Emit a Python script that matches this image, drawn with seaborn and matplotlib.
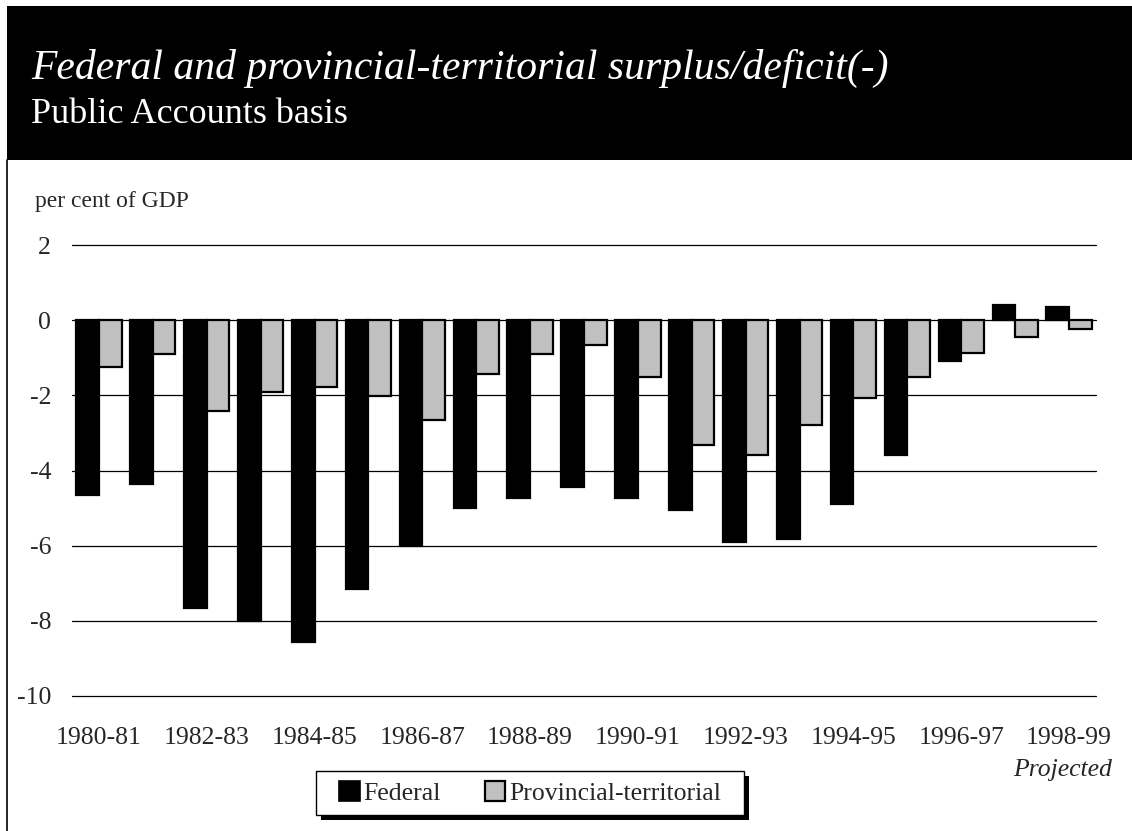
import matplotlib
matplotlib.use("Agg")
import matplotlib.pyplot as plt
from matplotlib.patches import Rectangle, Patch
from matplotlib.lines import Line2D
import pandas as pd
import seaborn as sns

# Fiscal years
years = ["1980-81", "1981-82", "1982-83", "1983-84", "1984-85", "1985-86",
         "1986-87", "1987-88", "1988-89", "1989-90", "1990-91", "1991-92",
         "1992-93", "1993-94", "1994-95", "1995-96", "1996-97", "1997-98",
         "1998-99"]

# Surplus/deficit(-), per cent of GDP
federal = [-4.65, -4.36, -7.67, -8.01, -8.57, -7.14, -6.02, -5.01, -4.73,
           -4.43, -4.74, -5.05, -5.89, -5.81, -4.90, -3.58, -1.09, 0.41, 0.34]
provincial = [-1.24, -0.90, -2.41, -1.92, -1.79, -2.03, -2.65, -1.44, -0.89,
              -0.67, -1.50, -3.33, -3.58, -2.79, -2.07, -1.50, -0.87, -0.46,
              -0.23]

series_names = ["Federal", "Provincial-territorial"]
y_ticks = [2, 0, -2, -4, -6, -8, -10]

df = pd.DataFrame({
    "year": years * 2,
    "value": federal + provincial,
    "series": [series_names[0]] * len(years) + [series_names[1]] * len(years),
})

sns.set_theme(style="white")
plt.rcParams["font.family"] = ["Liberation Serif", "DejaVu Serif"]

W, H = 1132, 831
fig = plt.figure(figsize=(W / 100, H / 100), dpi=100)
fig.patch.set_facecolor("white")

def px(x, y):
    """Pixel position (from top-left) to figure fraction."""
    return x / W, 1 - y / H

# Black title band and left frame line
fig.patches.append(Rectangle(px(7, 160), (W - 7) / W, 154 / H,
                             transform=fig.transFigure, facecolor="black",
                             edgecolor="none", zorder=0))
fig.lines.append(Line2D([7 / W, 7 / W], [0, 1 - 160 / H],
                        transform=fig.transFigure, color="black", lw=1.2))

fig.text(*px(31, 79), "Federal and provincial-territorial surplus/deficit(-)",
         color="white", fontsize=30, fontstyle="italic", va="baseline",
         ha="left")
fig.text(*px(31, 123), "Public Accounts basis", color="white", fontsize=26,
         va="baseline", ha="left")
fig.text(*px(35, 207), "per cent of GDP", fontsize=17, va="baseline",
         ha="left")

# Plot area
left, right, top, bottom = 72, 1096, 245, 696
ax = fig.add_axes([left / W, 1 - bottom / H, (right - left) / W,
                   (bottom - top) / H])
ax.set_facecolor("white")

for v in y_ticks:
    ax.axhline(v, color="black", lw=0.9, zorder=0, clip_on=False)

palette = {series_names[0]: "black", series_names[1]: "#C0C0C0"}
sns.barplot(data=df, x="year", y="value", hue="series", order=years,
            hue_order=series_names, palette=palette, width=0.84, gap=0,
            edgecolor="black", linewidth=1.6, legend=False, ax=ax,
            saturation=1, zorder=2)

ax.set_ylim(-10, 2)
ax.set_xlim(-0.5, len(years) - 0.5)
ax.set_yticks(y_ticks)
ax.set_yticklabels([str(v) for v in y_ticks], fontsize=18.5)
ax.set_xticks(range(0, len(years), 2))
ax.set_xticklabels(years[::2], fontsize=18.5)
ax.tick_params(axis="y", length=0, pad=15)
ax.tick_params(axis="x", length=0, pad=22)
ax.set_xlabel("")
ax.set_ylabel("")
for s in ax.spines.values():
    s.set_visible(False)

fig.text(*px(1112, 770), "Projected", fontsize=18.5, fontstyle="italic",
         ha="right", va="center")

# Legend with drop shadow
lx0, ly0, lx1, ly1 = 316, 771, 744, 815
fig.patches.append(Rectangle(px(lx0 + 5, ly1 + 5), (lx1 - lx0) / W,
                             (ly1 - ly0) / H, transform=fig.transFigure,
                             facecolor="black", edgecolor="none", zorder=3))
fig.patches.append(Rectangle(px(lx0, ly1), (lx1 - lx0) / W, (ly1 - ly0) / H,
                             transform=fig.transFigure, facecolor="white",
                             edgecolor="black", lw=1.0, zorder=4))
handles = [Patch(facecolor="black", edgecolor="black", lw=1.2),
           Patch(facecolor="#C0C0C0", edgecolor="black", lw=1.6)]
leg = fig.legend(handles, series_names, loc="center",
                 bbox_to_anchor=px((lx0 + lx1) / 2, (ly0 + ly1) / 2),
                 ncol=2, frameon=False, fontsize=18.5, handlelength=0.8,
                 handleheight=0.8, handletextpad=0.15, columnspacing=1.7,
                 borderpad=0.2)
leg.set_zorder(5)

fig.savefig("out.png", dpi=100, facecolor="white")
